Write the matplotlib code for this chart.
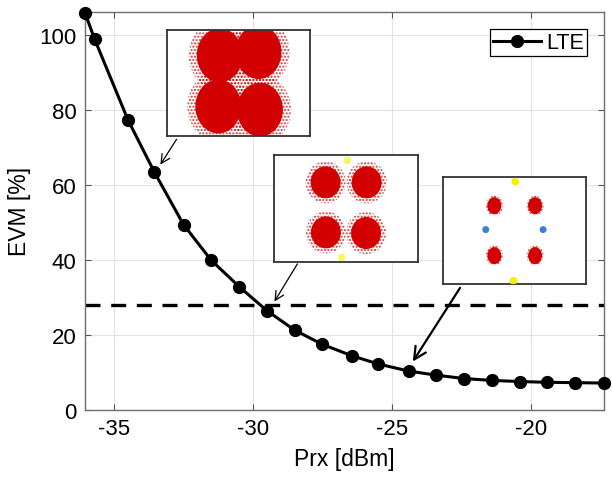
import matplotlib.pyplot as plt
from matplotlib.patches import Ellipse

plt.rcParams['font.family'] = ['Liberation Sans', 'DejaVu Sans']
plt.rcParams['axes.unicode_minus'] = False

# Du lieu EVM theo cong suat thu
prx = [-36.05, -35.7, -34.5, -33.55, -32.5, -31.5, -30.5, -29.5, -28.5, -27.5,
       -26.45, -25.5, -24.4, -23.4, -22.4, -21.4, -20.4, -19.4, -18.4, -17.35]
evm = [105.8, 98.7, 77.2, 63.3, 49.3, 39.8, 32.8, 26.4, 21.2, 17.4,
       14.4, 12.2, 10.3, 9.2, 8.3, 7.8, 7.5, 7.3, 7.2, 7.1]
evm_limit = 28.0
x_ticks = [-35, -30, -25, -20]
y_ticks = [0, 20, 40, 60, 80, 100]

# Tam cac cum chom sao (toa do chuan hoa trong khung nho)
c1_x = [0.37, 0.64, 0.36, 0.65]
c1_y = [0.76, 0.79, 0.28, 0.25]
c2_x = [0.358, 0.644, 0.36, 0.64]
c2_y = [0.744, 0.744, 0.275, 0.269]
c3_x = [0.36, 0.644, 0.36, 0.644]
c3_y = [0.734, 0.734, 0.266, 0.266]
# diem phu (mau vang / xanh) trong khung 3
y3_x = [0.505, 0.493]
y3_y = [0.96, 0.03]
b3_x = [0.30, 0.70]
b3_y = [0.51, 0.51]

fig = plt.figure(figsize=(6.12, 4.81), dpi=100)
ax = fig.add_axes([0.1389, 0.1462, 0.8485, 0.8274])

ax.plot(prx, evm, color='k', linewidth=2.2, marker='o', markersize=8.5,
        label='LTE', clip_on=False, zorder=3)
ax.axhline(evm_limit, color='k', linewidth=2.4, linestyle=(0, (4.5, 3.2)), zorder=2)

ax.set_xlim(-36.05, -17.35)
ax.set_ylim(0, 106.1)
ax.set_xticks(x_ticks)
ax.set_yticks(y_ticks)
ax.set_xlabel('Prx [dBm]', fontsize=16.5, labelpad=6)
ax.set_ylabel('EVM [%]', fontsize=16.5, labelpad=6)
ax.tick_params(labelsize=16, direction='in', length=4, top=True, right=True,
               color='#555555', pad=6)
ax.grid(True, color='#e3e3e3', linewidth=0.8)
ax.set_axisbelow(True)
for s in ax.spines.values():
    s.set_color('#6f6f6f')
    s.set_linewidth(1.0)

leg = ax.legend(loc='upper right', fontsize=15.5, fancybox=False, framealpha=1,
                edgecolor='k', borderpad=0.15, handlelength=2.2,
                handletextpad=0.25, borderaxespad=0.8)
leg.get_frame().set_linewidth(0.9)

red = '#d20000'


def draw_inset(rect, cx, cy, r_core, r_halo, w_px, h_px):
    ins = fig.add_axes(rect)
    ins.set_xlim(0, 1)
    ins.set_ylim(0, 1)
    ins.set_xticks([])
    ins.set_yticks([])
    for s in ins.spines.values():
        s.set_color('#333333')
        s.set_linewidth(1.3)
    for x, y in zip(cx, cy):
        ins.add_patch(Ellipse((x, y), 2 * r_halo[0] / w_px, 2 * r_halo[1] / h_px,
                              facecolor='none', edgecolor=red, hatch='.....',
                              linewidth=0, alpha=0.8))
        ins.add_patch(Ellipse((x, y), 2 * r_core[0] / w_px, 2 * r_core[1] / h_px,
                              facecolor=red, edgecolor='none'))
    return ins


w_px, h_px = 143.4, 106.7
ins1 = draw_inset([0.2724, 0.7146, 0.2343, 0.2216], c1_x, c1_y,
                  (23, 27), (31, 35), w_px, h_px)
ins2 = draw_inset([0.4482, 0.4538, 0.2343, 0.2218], c2_x, c2_y,
                  (15, 16), (20, 21), w_px, h_px)
ins3 = draw_inset([0.7234, 0.4075, 0.2343, 0.2218], c3_x, c3_y,
                  (7, 8.5), (8.5, 10), w_px, h_px)

# cac diem mau vang va xanh
ins3.scatter(y3_x, y3_y, s=30, color='#f5f000', edgecolors='none', zorder=3)
ins3.scatter(b3_x, b3_y, s=25, color='#3a7fe0', edgecolors='none', zorder=3)
ins2.scatter([0.51, 0.47], [0.95, 0.04], s=30, color='#f5f000', edgecolors='none',
             alpha=0.6, zorder=3)

# Mui ten chi den cac diem
ax.annotate('', xy=(-33.39, 64.7), xytext=(-32.7, 72.7),
            arrowprops=dict(arrowstyle='->', color='k', lw=0.9, mutation_scale=16))
ax.annotate('', xy=(-29.28, 28.2), xytext=(-28.35, 39.5),
            arrowprops=dict(arrowstyle='->', color='k', lw=0.9, mutation_scale=16))
ax.annotate('', xy=(-24.30, 12.2), xytext=(-22.49, 33.1),
            arrowprops=dict(arrowstyle='->', color='k', lw=1.6, mutation_scale=22))

plt.savefig('out.png', dpi=100)
